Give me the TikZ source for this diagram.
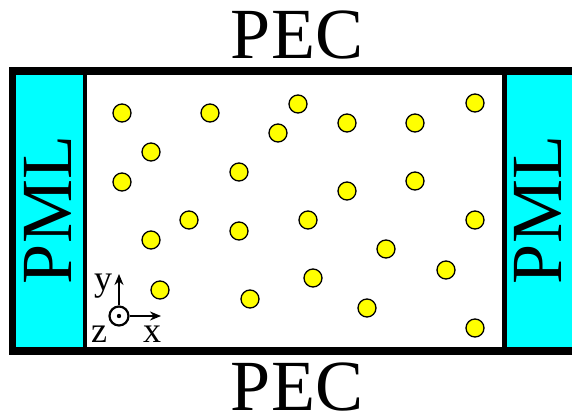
\documentclass[tikz,border=0pt]{standalone}
\usepackage{fontspec}
\setmainfont{Liberation Serif}
\usepackage{tikz}
\usetikzlibrary{arrows.meta}

\definecolor{pmlcyan}{rgb}{0,1,1}
\definecolor{ballyellow}{rgb}{1,1,0}

\begin{document}
\begin{tikzpicture}[x=1pt,y=-1pt]
            \clip (0,0) rectangle (572,417);
            \fill[white] (0,0) rectangle (572,417);

            \draw[fill=pmlcyan, line width=4.5pt] (12.5,71) rectangle (85,351);
            \draw[fill=pmlcyan, line width=4.5pt] (504.5,71) rectangle (580,351);
            \draw[line width=7.5pt] (12.5,71) rectangle (580,351);

            \foreach \x/\y in {122/113, 210/113, 298/104, 278/133, 347/123, 415/123, 475/103,
                               151/152, 122/182, 239/172, 347/191, 415/181,
                               189/220, 239/231, 308/220, 475/220, 151/240, 386/249, 446/270,
                               160/290, 250/299, 313/278, 367/308, 475/328}
                \draw[fill=ballyellow, line width=1.3pt] (\x,\y) circle (9pt);

            \node[font=\fontsize{72}{72}\selectfont] (pectop) at (297,35) {PEC};
            \node[font=\fontsize{72}{72}\selectfont] (pecbot) at (297,387) {PEC};
            \node[font=\fontsize{72}{72}\selectfont, rotate=90] (pmlleft) at (48,210) {PML};
            \node[font=\fontsize{72}{72}\selectfont, rotate=90] (pmlright) at (538,210) {PML};

            \node[circle, draw, line width=2.2pt, minimum size=19pt, inner sep=0pt] (zaxis) at (119,316) {};
            \fill (zaxis.center) circle (2.2pt);
            \coordinate (xend) at (161,316);
            \coordinate (yend) at (119,274);
            \draw[line width=2.2pt, -{Stealth[length=11pt,width=9pt]}] (zaxis.east) -- (xend);
            \draw[line width=2.2pt, -{Stealth[length=11pt,width=9pt]}] (zaxis.north) -- (yend);
            \node[font=\fontsize{36}{36}\selectfont, anchor=base] (ylab) at (103,290) {y};
            \node[font=\fontsize{36}{36}\selectfont, anchor=base] (zlab) at (99,342) {z};
            \node[font=\fontsize{36}{36}\selectfont, anchor=base] (xlab) at (152,342) {x};
         \end{tikzpicture}
\end{document}
